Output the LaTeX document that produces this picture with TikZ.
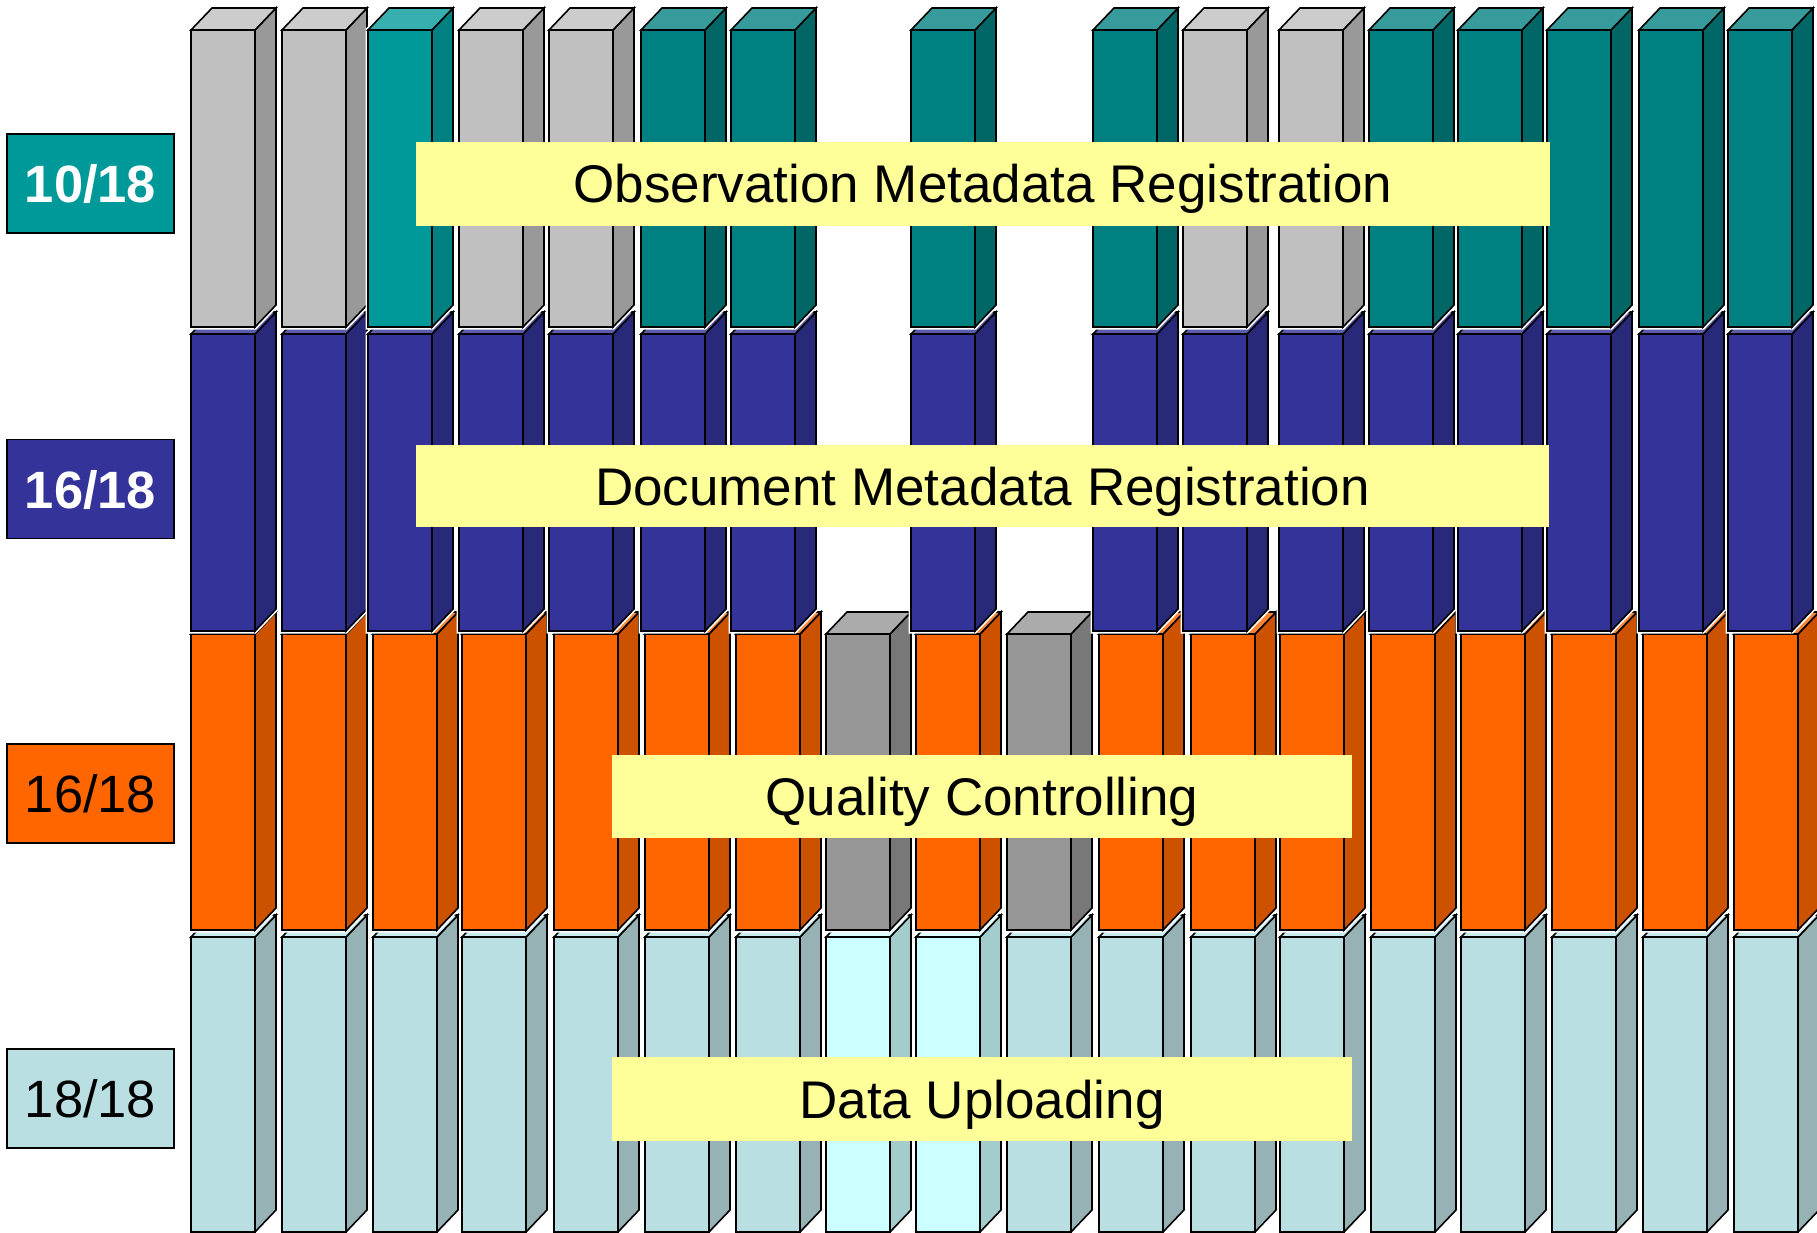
\documentclass[tikz,border=0pt]{standalone}
\usepackage{fontspec}
\setmainfont{Liberation Sans}

% face colours: F = front, S = side, T = top
\definecolor{grayF}{HTML}{C0C0C0}\definecolor{grayS}{HTML}{999999}\definecolor{grayT}{HTML}{CCCCCC}
\definecolor{tealAF}{HTML}{009999}\definecolor{tealAS}{HTML}{008080}\definecolor{tealAT}{HTML}{38AFAF}
\definecolor{tealF}{HTML}{008080}\definecolor{tealS}{HTML}{006666}\definecolor{tealT}{HTML}{379B9B}
\definecolor{blueF}{HTML}{333399}\definecolor{blueS}{HTML}{29297A}\definecolor{blueT}{HTML}{5C5CAD}
\definecolor{orangeF}{HTML}{FF6600}\definecolor{orangeS}{HTML}{CC5200}\definecolor{orangeT}{HTML}{FF8533}
\definecolor{dgrayF}{HTML}{969696}\definecolor{dgrayS}{HTML}{787878}\definecolor{dgrayT}{HTML}{ABABAB}
\definecolor{lightF}{HTML}{B9DFE2}\definecolor{lightS}{HTML}{96B2B5}\definecolor{lightT}{HTML}{C9EBEE}
\definecolor{cyanF}{HTML}{CCFFFF}\definecolor{cyanS}{HTML}{A3CCCC}\definecolor{cyanT}{HTML}{DDFFFF}
\definecolor{banner}{HTML}{FFFF99}

% one box-shaped bar: #1 left x, #2 top y of front face, #3 bottom y, #4 colour set
\newcommand\barblock[4]{%
  \pgfmathsetmacro\xa{#1}\pgfmathsetmacro\xb{#1+64}%
  \pgfmathsetmacro\xc{#1+85}\pgfmathsetmacro\xd{#1+21}%
  \pgfmathsetmacro\ya{#2}\pgfmathsetmacro\yb{#2-22}%
  \pgfmathsetmacro\yc{#3}\pgfmathsetmacro\yd{#3-22}%
  \draw[halo] (\xa,\yc) -- (\xa,\ya) -- (\xd,\yb) -- (\xc,\yb) -- (\xc,\yd) -- (\xb,\yc) -- cycle;
  \filldraw[edge,fill=#4F] (\xa,\ya) rectangle (\xb,\yc);
  \filldraw[edge,fill=#4S] (\xb,\ya) -- (\xc,\yb) -- (\xc,\yd) -- (\xb,\yc) -- cycle;
  \filldraw[edge,fill=#4T] (\xa,\ya) -- (\xd,\yb) -- (\xc,\yb) -- (\xb,\ya) -- cycle;
}

\begin{document}
\begin{tikzpicture}[x=1pt,y=-1pt,
  edge/.style={draw=black,line width=1.6pt,line join=miter},
  halo/.style={draw=white,line width=5pt,line join=miter},
  count/.style={draw=black,line width=1.6pt,minimum width=167pt,minimum height=99pt,
    inner sep=0pt,text height=38pt,text depth=0pt,font=\fontsize{52.5pt}{60pt}\selectfont},
  strip/.style={fill=banner,inner sep=0pt,text height=38pt,text depth=0pt,
    font=\fontsize{53pt}{62pt}\selectfont}]
\useasboundingbox (0,0) rectangle (1817,1233);

\begin{scope}
\clip (0,0) rectangle (1817,1233);
% Data Uploading
\foreach \x/\c in {191/light,282/light,373/light,462/light,554/light,645/light,736/light,
  826/cyan,916/cyan,1007/light,1099/light,1191/light,1280/light,1371/light,1461/light,
  1552/light,1643/light,1734/light}
  {\barblock{\x}{937}{1232}{\c}}
% Quality Controlling
\foreach \x/\c in {191/orange,282/orange,373/orange,462/orange,554/orange,645/orange,736/orange,
  826/dgray,916/orange,1007/dgray,1099/orange,1191/orange,1280/orange,1371/orange,1461/orange,
  1552/orange,1643/orange,1734/orange}
  {\barblock{\x}{634}{930}{\c}}
% Document Metadata Registration
\foreach \x in {191,282,368,459,549,641,731,911,1093,1183,1279,1369,1458,1547,1639,1728}
  {\barblock{\x}{334}{631}{blue}}
% Observation Metadata Registration
\foreach \x/\c in {191/gray,282/gray,368/tealA,459/gray,549/gray,641/teal,731/teal,911/teal,
  1093/teal,1183/gray,1279/gray,1369/teal,1458/teal,1547/teal,1639/teal,1728/teal}
  {\barblock{\x}{30}{327}{\c}}
\end{scope}

% stage banners
\node[strip,minimum width=1134pt,minimum height=84pt] (obs) at (983,184) {Observation Metadata Registration};
\node[strip,minimum width=1133pt,minimum height=82pt] (doc) at (982.5,486) {Document Metadata Registration};
\node[strip,minimum width=740pt,minimum height=83pt] (qc) at (982,796.5) {Quality Controlling};
\node[strip,minimum width=740pt,minimum height=84pt] (up) at (982,1099) {Data Uploading};

% completion counts
\node[count,fill=tealAF,text=white,font=\fontsize{52.5pt}{60pt}\selectfont\bfseries] (c1) at (90.5,183.5) {10/18};
\node[count,fill=blueF,text=white,font=\fontsize{52.5pt}{60pt}\selectfont\bfseries] (c2) at (90.5,489) {16/18};
\node[count,fill=orangeF] (c3) at (90.5,793.5) {16/18};
\node[count,fill=lightF] (c4) at (90.5,1098.5) {18/18};
\end{tikzpicture}
\end{document}
